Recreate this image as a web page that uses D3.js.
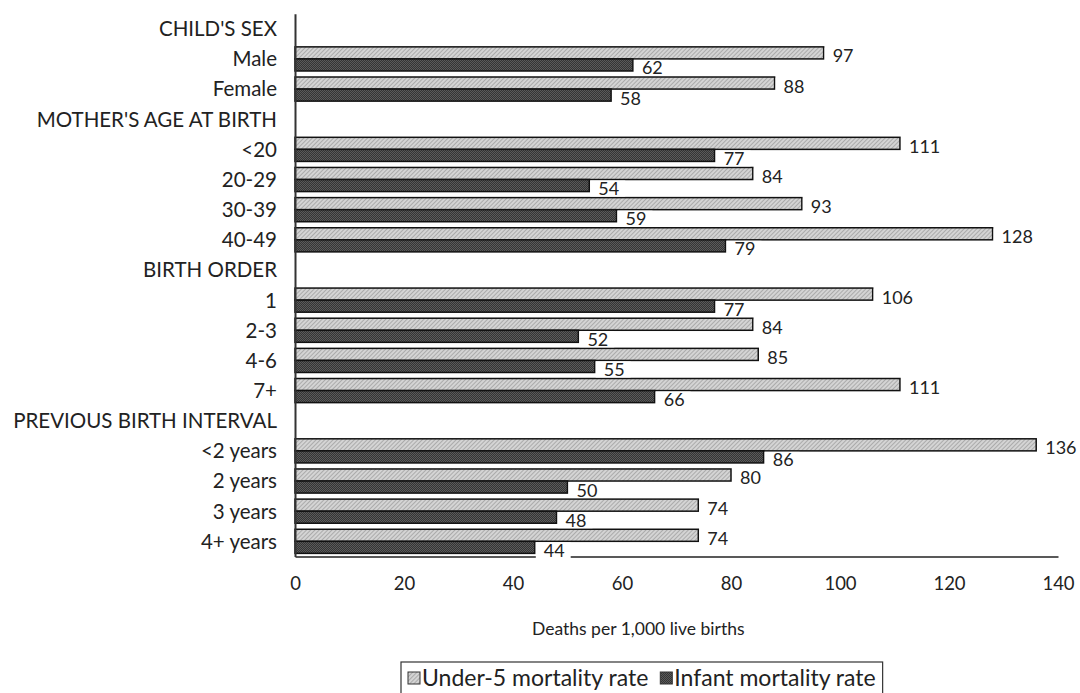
<!DOCTYPE html>
<html>
<head>
<meta charset="utf-8">
<script src="https://cdn.jsdelivr.net/npm/d3@7/dist/d3.min.js"></script>
<style>
  html, body { margin: 0; padding: 0; background: #fff; }
  svg { display: block; font-family: Lato, "Noto Sans", sans-serif; }
</style>
</head>
<body>
<svg id="chart" width="1080" height="693"></svg>
<script>
// ---- data ----
const categories = ["CHILD'S SEX", "Male", "Female", "MOTHER'S AGE AT BIRTH", "<20", "20-29", "30-39", "40-49",
  "BIRTH ORDER", "1", "2-3", "4-6", "7+", "PREVIOUS BIRTH INTERVAL", "<2 years", "2 years", "3 years", "4+ years"];
const under5 = [null, 97, 88, null, 111, 84, 93, 128, null, 106, 84, 85, 111, null, 136, 80, 74, 74];
const infant = [null, 62, 58, null, 77, 54, 59, 79, null, 77, 52, 55, 66, null, 86, 50, 48, 44];
const seriesNames = ["Under-5 mortality rate", "Infant mortality rate"];
const xTicks = [0, 20, 40, 60, 80, 100, 120, 140];
const xTitle = "Deaths per 1,000 live births";

const svg = d3.select("#chart");

// ---- patterns ----
const defs = svg.append("defs");
const pu = defs.append("pattern").attr("id", "patU").attr("patternUnits", "userSpaceOnUse")
  .attr("width", 3).attr("height", 3).attr("patternTransform", "rotate(45)");
pu.append("rect").attr("width", 3).attr("height", 3).attr("fill", "#d4d4d4");
pu.append("rect").attr("width", 1).attr("height", 3).attr("fill", "#ababab");
const pi = defs.append("pattern").attr("id", "patI").attr("patternUnits", "userSpaceOnUse")
  .attr("width", 2).attr("height", 2);
pi.append("rect").attr("width", 2).attr("height", 2).attr("fill", "#353535");
pi.append("rect").attr("width", 1).attr("height", 1).attr("fill", "#5a5a5a");
pi.append("rect").attr("x", 1).attr("y", 1).attr("width", 1).attr("height", 1).attr("fill", "#5a5a5a");
const fills = ["url(#patU)", "url(#patI)"];

// ---- scales ----
const x = d3.scaleLinear().domain([0, 140]).range([295, 1058]);
const y = d3.scaleBand().domain(d3.range(categories.length)).range([13.7, 556.4]);
const bw = y.bandwidth();
const yInner = d3.scaleBand().domain([0, 1]).range([bw * 0.1, bw * 0.9]);

// ---- bars ----
const rows = categories.map((c, i) => ({ i, c, vals: [under5[i], infant[i]] }));
const g = svg.append("g");
rows.forEach(r => {
  r.vals.forEach((v, k) => {
    if (v == null) return;
    g.append("rect")
      .attr("x", x(0))
      .attr("y", y(r.i) + yInner(k))
      .attr("width", x(v) - x(0))
      .attr("height", yInner.bandwidth())
      .attr("fill", fills[k])
      .attr("stroke", "#111")
      .attr("stroke-width", 1.5);
  });
});

// ---- axes ----
const xAxis = svg.append("g").attr("transform", `translate(0,${y.range()[1]})`)
  .call(d3.axisBottom(x).tickValues(xTicks).tickSize(0).tickSizeOuter(0).tickPadding(20));
xAxis.select(".domain").attr("stroke", "#222").attr("stroke-width", 1.5);
xAxis.selectAll("text").attr("font-size", 18.5).attr("fill", "#222").attr("font-family", "Lato, sans-serif");

const yAxis = svg.append("g").attr("transform", `translate(${x(0)},0)`)
  .call(d3.axisLeft(y).tickFormat(i => categories[i]).tickSize(0).tickSizeOuter(0).tickPadding(18));
yAxis.select(".domain").attr("stroke", "#333").attr("stroke-width", 2);
yAxis.selectAll("text").attr("font-size", 20.5).attr("fill", "#222").attr("font-family", "Lato, sans-serif")
  .attr("dy", "0.36em");

// ---- value labels ----
const lg = svg.append("g");
rows.forEach(r => {
  r.vals.forEach((v, k) => {
    if (v == null) return;
    const top = y(r.i) + yInner(k);
    const lab = lg.append("g");
    const rect = lab.append("rect").attr("fill", "#fff");
    const t = lab.append("text")
      .attr("x", x(v) + 9)
      .attr("y", top + yInner.bandwidth() / 2 + 9.5)
      .attr("font-size", 18)
      .attr("fill", "#222")
      .text(v);
    const w = t.node().getComputedTextLength();
    rect.attr("x", x(v) + 1).attr("y", top + 1).attr("width", w + 14).attr("height", 16);
  });
});

// ---- axis title ----
svg.append("text").attr("x", 532).attr("y", 635).attr("text-anchor", "start")
  .attr("font-size", 17.5).attr("fill", "#222").text(xTitle);

// ---- legend ----
const leg = svg.append("g").attr("transform", "translate(401,662)");
const legBox = leg.append("rect").attr("fill", "none").attr("stroke", "#333").attr("stroke-width", 1.2);
let cx = 7;
seriesNames.forEach((s, k) => {
  leg.append("rect").attr("x", cx).attr("y", 10).attr("width", 12).attr("height", 12)
    .attr("fill", fills[k]).attr("stroke", "#333").attr("stroke-width", 1);
  const t = leg.append("text").attr("x", cx + 14).attr("y", 23.5).attr("font-size", 23).attr("fill", "#222").text(s);
  cx += 14 + t.node().getComputedTextLength() + 12;
});
legBox.attr("x", 0).attr("y", 0).attr("width", cx - 5).attr("height", 32);
</script>
</body>
</html>
